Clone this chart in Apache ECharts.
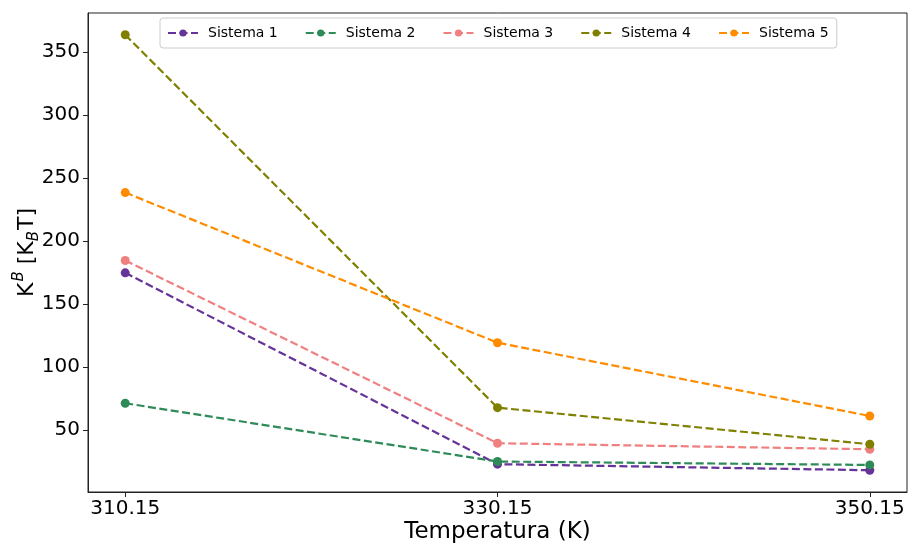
<!DOCTYPE html>
<html>
<head>
<meta charset="utf-8">
<script src="https://cdn.jsdelivr.net/npm/echarts@6/dist/echarts.min.js"></script>
<style>
  html, body { margin: 0; padding: 0; background: #fff; }
  #chart { width: 909px; height: 545px; }
</style>
</head>
<body>
<div id="chart"></div>
<script>
// Temperatures (K) on the x axis
const temperatures = [310.15, 330.15, 350.15];

// K^B values in units of k_B T for each system
const sistema1 = [174.8, 23.1, 18.3];
const sistema2 = [71.4, 25.2, 22.5];
const sistema3 = [184.6, 39.7, 34.9];
const sistema4 = [363.5, 67.9, 38.9];
const sistema5 = [238.4, 119.4, 61.3];

const seriesNames = ['Sistema 1', 'Sistema 2', 'Sistema 3', 'Sistema 4', 'Sistema 5'];
const seriesColors = ['#663399', '#2e8b57', '#f08080', '#808000', '#ff8c00'];
const seriesValues = [sistema1, sistema2, sistema3, sistema4, sistema5];

const yTicks = [50, 100, 150, 200, 250, 300, 350];

const font = 'DejaVu Sans';

const chart = echarts.init(document.getElementById('chart'), null, { renderer: 'canvas' });

const series = seriesNames.map((name, i) => ({
  name: name,
  type: 'line',
  data: temperatures.map((t, j) => [t, seriesValues[i][j]]),
  symbol: 'circle',
  symbolSize: 9,
  color: seriesColors[i],
  lineStyle: { type: [8, 3.5], width: 2.2, color: seriesColors[i] },
  itemStyle: { color: seriesColors[i] },
  emphasis: { disabled: true },
  animation: false
}));

chart.setOption({
  animation: false,
  backgroundColor: '#fff',
  grid: {
    left: 88, right: 2, top: 13, bottom: 53,
    outerBoundsMode: 'none',
    containLabel: false,
    show: true, borderColor: '#222', borderWidth: 1
  },
  legend: {
    data: seriesNames,
    left: 160, top: 18,
    itemWidth: 30, itemHeight: 9,
    itemGap: 27,
    padding: [8, 8, 8, 7],
    borderColor: '#ccc', borderWidth: 1, borderRadius: 3,
    textStyle: { fontFamily: font, fontSize: 14, color: '#000', padding: [0, 0, 0, 5] }
  },
  xAxis: {
    type: 'value',
    min: 308.15, max: 352.15,
    name: 'Temperatura (K)',
    nameLocation: 'middle',
    nameGap: 29,
    nameMoveOverlap: false,
    nameTextStyle: { fontFamily: font, fontSize: 23, color: '#000' },
    axisLine: { show: true, lineStyle: { color: '#222', width: 1 } },
    axisTick: { show: true, inside: false, length: 5, customValues: temperatures, lineStyle: { color: '#222' } },
    axisLabel: {
      customValues: temperatures,
      fontFamily: font, fontSize: 20, color: '#000', margin: 7,
      formatter: v => v.toFixed(2)
    },
    splitLine: { show: false }
  },
  yAxis: {
    type: 'value',
    min: 1.04, max: 380.76,
    name: '{k|K}{sup|B}{k| [K}{sub|B}{k|T]}',
    nameLocation: 'middle',
    nameRotate: 90,
    nameGap: 46,
    nameMoveOverlap: false,
    nameTextStyle: {
      fontFamily: font, color: '#000',
      rich: {
        k: { fontFamily: font, fontSize: 22, color: '#000', lineHeight: 30, verticalAlign: 'middle' },
        sup: { fontFamily: font, fontSize: 15, fontStyle: 'italic', color: '#000', lineHeight: 30, verticalAlign: 'top', padding: [0, 0, 13, 1] },
        sub: { fontFamily: font, fontSize: 15, fontStyle: 'italic', color: '#000', lineHeight: 30, verticalAlign: 'bottom', padding: [9, 1, 0, 0] }
      }
    },
    axisLine: { show: true, lineStyle: { color: '#222', width: 1 } },
    axisTick: { show: true, inside: false, length: 5, customValues: yTicks, lineStyle: { color: '#222' } },
    axisLabel: {
      customValues: yTicks,
      fontFamily: font, fontSize: 20, color: '#000', margin: 8
    },
    splitLine: { show: false }
  },
  series: series
});
</script>
</body>
</html>
